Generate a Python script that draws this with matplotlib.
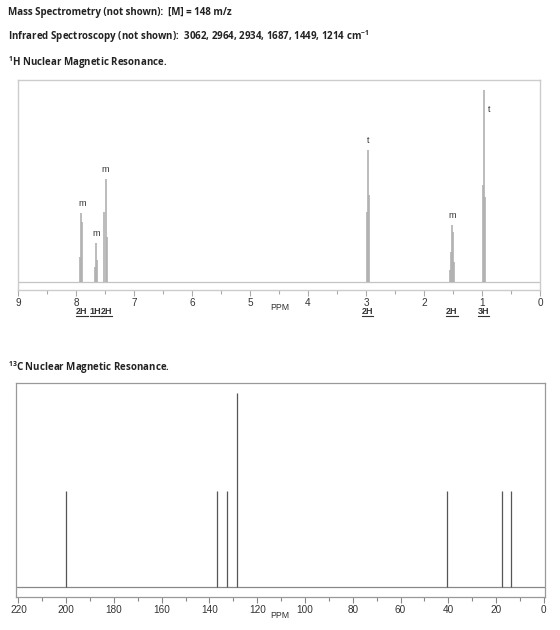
import numpy as np
import matplotlib
matplotlib.use("Agg")
import matplotlib.pyplot as plt
from matplotlib.lines import Line2D
from matplotlib.ticker import MultipleLocator

plt.rcParams['font.family'] = ['Liberation Sans', 'DejaVu Sans']
plt.rcParams['mathtext.fontset'] = 'custom'
plt.rcParams['mathtext.rm'] = 'Open Sans'
plt.rcParams['mathtext.bf'] = 'Open Sans:bold'

# header texts
ms_text = "Mass Spectrometry (not shown):  [M] = 148 m/z"
ir_text = "Infrared Spectroscopy (not shown):  3062, 2964, 2934, 1687, 1449, 1214 cm$^{\\mathbf{-1}}$"
h_title = "$^{\\mathbf{1}}$H Nuclear Magnetic Resonance."
c_title = "$^{\\mathbf{13}}$C Nuclear Magnetic Resonance."

# 1H NMR: individual lines of each multiplet (ppm, intensity)
h_ppm = [7.93, 7.91, 7.89, 7.68, 7.66, 7.64,
         7.51, 7.49, 7.47,
         2.985, 2.97, 2.955,
         1.56, 1.54, 1.52, 1.50, 1.48,
         0.985, 0.97, 0.955]
h_int = [25, 69, 60, 15, 39, 22,
         70, 103, 45,
         70, 132, 87,
         12, 30, 57, 50, 20,
         97, 192, 85]

# peak labels (multiplicity)
lab_ppm = [7.90, 7.66, 7.49, 2.97, 1.52, 0.97]
lab_top = [69, 39, 103, 132, 57, 192]
lab_txt = ['m', 'm', 'm', 't', 'm', 't']

# integrations
integ_ppm = [7.90, 7.66, 7.47, 2.97, 1.52, 0.97]
integ_txt = ['2H', '1H', '2H', '2H', '2H', '3H']

# 13C NMR
c_ppm = [200.2, 137.0, 132.8, 128.4, 40.4, 17.7, 13.8]
c_int = [96, 96, 96, 194, 96, 96, 96]

W, H = 560, 630
fig = plt.figure(figsize=(W / 100, H / 100), dpi=100)


def px_axes(left, top, right, bottom):
    return fig.add_axes([left / W, 1 - bottom / H, (right - left) / W, (bottom - top) / H])


def px_text(x, y, s, **kw):
    return fig.text(x / W, 1 - y / H, s, **kw)


head = dict(family='Open Sans', weight='bold', fontsize=7.0, color='#222222', va='center', ha='left')
px_text(8, 12, ms_text, **head)
px_text(8, 37, ir_text, **head)
px_text(8, 63, h_title, **head)
px_text(8, 368, c_title, **head)

# ---- 1H spectrum ----
ax1 = px_axes(18, 80, 540, 290)
ax1.set_xlim(9, 0)
ax1.set_ylim(-8, 202)
ax1.axhline(0, color='#c4c4c4', lw=0.9, zorder=1)
ax1.vlines(h_ppm, 0, h_int, color='#b0b0b0', lw=1.2, zorder=2)
for p, t, s in zip(lab_ppm, lab_top, lab_txt):
    if t > 180:
        ax1.annotate(s, (p, t), xytext=(4, -14), textcoords='offset points',
                     ha='center', va='center', fontsize=6.5, color='#333333')
    else:
        ax1.annotate(s, (p, t), xytext=(0, 7), textcoords='offset points',
                     ha='center', va='center', fontsize=6.5, color='#333333')
for sp in ax1.spines.values():
    sp.set_color('#cccccc')
    sp.set_linewidth(1.0)
ax1.set_yticks([])
ax1.xaxis.set_major_locator(MultipleLocator(1))
ax1.xaxis.set_minor_locator(MultipleLocator(0.5))
ax1.tick_params(axis='x', which='major', length=4, width=0.8, color='#aaaaaa',
                labelsize=7.2, labelcolor='#333333', pad=1.5)
ax1.tick_params(axis='x', which='minor', length=3, width=0.8, color='#aaaaaa')
px_text(280, 308, 'PPM', fontsize=6.3, color='#333333', ha='center', va='center')

integ_artists = []
for p, s in zip(integ_ppm, integ_txt):
    x = ax1.transData.transform((p, 0))[0]
    integ_artists.append(fig.text(x / W, 1 - 312 / H, s, fontsize=6.5, weight='bold',
                                  color='#333333', ha='center', va='center'))

# ---- 13C spectrum ----
ax2 = px_axes(16, 383, 545, 597)
ax2.set_xlim(221, -0.5)
ax2.set_ylim(-10, 204)
ax2.axhline(0, color='#888888', lw=0.9, zorder=1)
ax2.vlines(c_ppm, 0, c_int, color='#555555', lw=0.9, zorder=2)
for sp in ax2.spines.values():
    sp.set_color('#999999')
    sp.set_linewidth(0.9)
ax2.set_yticks([])
ax2.xaxis.set_major_locator(MultipleLocator(20))
ax2.xaxis.set_minor_locator(MultipleLocator(10))
ax2.tick_params(axis='x', which='major', length=4, width=0.8, color='#888888',
                labelsize=7.2, labelcolor='#333333', pad=1.5)
ax2.tick_params(axis='x', which='minor', length=3, width=0.8, color='#888888')
px_text(280, 616, 'PPM', fontsize=6.3, color='#333333', ha='center', va='center')

# underline the integrations
fig.canvas.draw()
r = fig.canvas.get_renderer()
for t in integ_artists:
    bb = t.get_window_extent(r).transformed(fig.transFigure.inverted())
    fig.add_artist(Line2D([bb.x0, bb.x1], [bb.y0 + 0.001, bb.y0 + 0.001],
                          transform=fig.transFigure, color='#333333', lw=0.8))

fig.savefig('out.png', dpi=100)
